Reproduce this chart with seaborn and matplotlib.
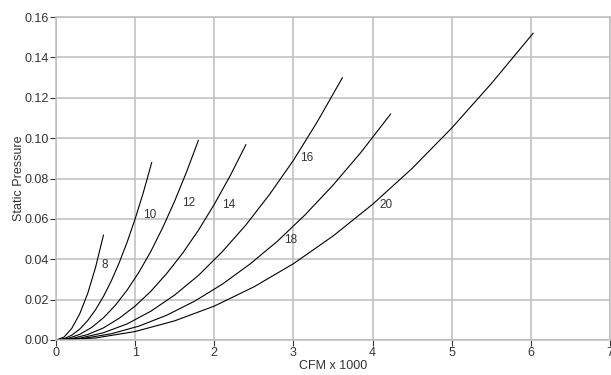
import pandas as pd
import matplotlib
matplotlib.use("Agg")
import matplotlib.pyplot as plt
import seaborn as sns


# values (CFM x 1000, static pressure)
cfm_8 = [0, 0.1, 0.2, 0.3, 0.4, 0.5, 0.6]
sp_8 = [0, 0.0014, 0.0058, 0.013, 0.023, 0.036, 0.052]

cfm_10 = [0, 0.1, 0.2, 0.3, 0.4, 0.5, 0.6, 0.7, 0.8, 0.9, 1.0, 1.1, 1.21]
sp_10 = [0, 0.0006, 0.0024, 0.0054, 0.0096, 0.015, 0.0216, 0.0294, 0.0384,
         0.0486, 0.060, 0.0726, 0.088]

cfm_12 = [0, 0.15, 0.3, 0.45, 0.6, 0.75, 0.9, 1.05, 1.2, 1.35, 1.5, 1.65, 1.8]
sp_12 = [0, 0.0007, 0.0028, 0.0062, 0.011, 0.0172, 0.0248, 0.0337, 0.044,
         0.0558, 0.0689, 0.0833, 0.099]

cfm_14 = [0, 0.2, 0.4, 0.6, 0.8, 1.0, 1.2, 1.4, 1.6, 1.8, 2.0, 2.2, 2.4]
sp_14 = [0, 0.0007, 0.0027, 0.006, 0.0108, 0.0168, 0.0242, 0.033, 0.043,
         0.0544, 0.0672, 0.0813, 0.0968]

cfm_16 = [0, 0.3, 0.6, 0.9, 1.2, 1.5, 1.8, 2.1, 2.4, 2.7, 3.0, 3.3, 3.62]
sp_16 = [0, 0.0009, 0.0036, 0.008, 0.0143, 0.0223, 0.032, 0.0437, 0.057,
         0.0722, 0.089, 0.108, 0.130]

cfm_18 = [0, 0.35, 0.7, 1.05, 1.4, 1.75, 2.1, 2.45, 2.8, 3.15, 3.5, 3.85, 4.23]
sp_18 = [0, 0.0008, 0.0031, 0.0069, 0.0123, 0.0192, 0.0276, 0.0376, 0.049,
         0.0621, 0.0767, 0.0928, 0.112]

cfm_20 = [0, 0.5, 1.0, 1.5, 2.0, 2.5, 3.0, 3.5, 4.0, 4.5, 5.0, 5.5, 6.03]
sp_20 = [0, 0.001, 0.0042, 0.0095, 0.0168, 0.0263, 0.0378, 0.0515, 0.0672,
         0.085, 0.105, 0.127, 0.152]

sizes = ["8", "10", "12", "14", "16", "18", "20"]
label_x = [0.62, 1.18, 1.68, 2.18, 3.17, 2.97, 4.17]
label_y = [0.037, 0.062, 0.068, 0.067, 0.090, 0.0496, 0.067]

curves = {
    "8": (cfm_8, sp_8),
    "10": (cfm_10, sp_10),
    "12": (cfm_12, sp_12),
    "14": (cfm_14, sp_14),
    "16": (cfm_16, sp_16),
    "18": (cfm_18, sp_18),
    "20": (cfm_20, sp_20),
}

rows = []
for size in sizes:
    xs, ys = curves[size]
    for x, y in zip(xs, ys):
        rows.append({"size": size, "cfm": x, "sp": y})
df = pd.DataFrame(rows)

sns.set_style("white")
plt.rcParams["font.family"] = ["Liberation Sans", "DejaVu Sans"]

fig, ax = plt.subplots(figsize=(6.11, 3.75), dpi=100)
fig.subplots_adjust(left=56 / 611, right=610 / 611, top=1 - 17 / 375,
                    bottom=1 - 340 / 375)

sns.lineplot(data=df, x="cfm", y="sp", units="size", estimator=None,
             color="black", linewidth=0.8, ax=ax)

for s, lx, ly in zip(sizes, label_x, label_y):
    ax.text(lx, ly, s, ha="center", va="center", fontsize=8.5, color="#333333")

ax.set_xlim(0, 7)
ax.set_ylim(0, 0.16)
ax.set_xticks(range(0, 8))
ax.set_yticks([0.0, 0.02, 0.04, 0.06, 0.08, 0.10, 0.12, 0.14, 0.16])
ax.set_yticklabels([f"{v:.2f}" for v in ax.get_yticks()])
ax.grid(True, color="#bdbdbd", linewidth=1.1)
ax.set_axisbelow(True)
for sp in ax.spines.values():
    sp.set_color("#bdbdbd")
    sp.set_linewidth(1.1)
ax.tick_params(axis="both", direction="out", length=4, width=0.8,
               color="#333333", labelsize=9, labelcolor="#333333", pad=1,
               left=True, bottom=True)
ax.set_xlabel("CFM x 1000", fontsize=9, color="#333333", labelpad=1)
ax.set_ylabel("Static Pressure", fontsize=9, color="#333333", labelpad=0)

fig.savefig("out.png", dpi=100)
